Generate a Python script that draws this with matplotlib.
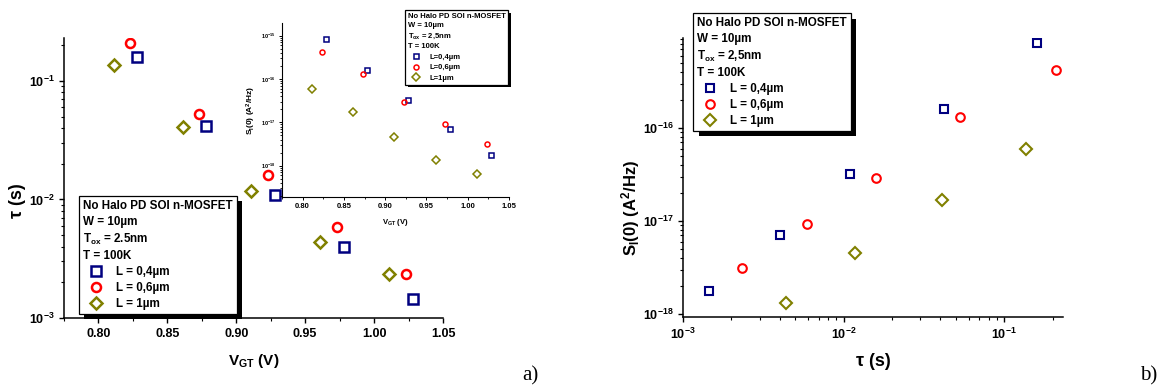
import matplotlib
matplotlib.use("Agg")
import matplotlib.pyplot as plt
import matplotlib.ticker as mticker
import matplotlib.patheffects as pe
from matplotlib.lines import Line2D

plt.rcParams.update({
    "font.family": ["Liberation Sans", "DejaVu Sans"],
    "font.weight": "bold",
    "axes.labelweight": "bold",
    "mathtext.fontset": "custom",
    "mathtext.rm": "Liberation Sans:bold",
    "mathtext.it": "Liberation Sans:bold",
    "mathtext.bf": "Liberation Sans:bold",
    "mathtext.sf": "Liberation Sans:bold",
    "mathtext.default": "bf",
    "axes.spines.top": False,
    "axes.spines.right": False,
    "axes.linewidth": 1.1,
})

# ---------------------------------------------------------------------------
# Data
# ---------------------------------------------------------------------------
labels = ["L = 0,4µm", "L = 0,6µm", "L = 1µm"]
inset_labels = ["L=0,4µm", "L=0,6µm", "L=1µm"]

vgt_L04 = [0.828, 0.878, 0.928, 0.978, 1.028]
vgt_L06 = [0.823, 0.873, 0.923, 0.973, 1.023]
vgt_L1 = [0.811, 0.861, 0.911, 0.961, 1.011]

tau_L04 = [0.16, 0.042, 0.011, 0.0040, 0.00145]
tau_L06 = [0.21, 0.053, 0.016, 0.0059, 0.00234]
tau_L1 = [0.136, 0.041, 0.0118, 0.0044, 0.00234]

s0_L04 = [8.2e-16, 1.6e-16, 3.2e-17, 7.1e-18, 1.75e-18]
s0_L06 = [4.2e-16, 1.3e-16, 2.9e-17, 9.3e-18, 3.1e-18]
s0_L1 = [6.0e-17, 1.7e-17, 4.5e-18, 1.33e-18, 6.6e-19]

COLORS = ["#000080", "#ff0000", "#808000"]
MARKERS = ["s", "o", "D"]

W, H = 1170, 391
fig = plt.figure(figsize=(W / 100, H / 100), dpi=100)


def px_axes(x0, y0, x1, y1):
    return fig.add_axes([x0 / W, 1 - y1 / H, (x1 - x0) / W, (y1 - y0) / H])


def style_axis(ax, size, major=3.5, minor=2.0):
    ax.tick_params(which="major", direction="out", length=major, width=1.0,
                   labelsize=size)
    ax.tick_params(which="minor", direction="out", length=minor, width=0.8)


def add_legend(ax, handles, texts, anchor, fsize, shadow, title,
               lspace=1.38, spacing=0.33):
    leg = ax.legend(handles, texts, loc="upper left",
                    bbox_to_anchor=(anchor[0] / W, 1 - anchor[1] / H),
                    bbox_transform=fig.transFigure, borderaxespad=0,
                    fancybox=False, framealpha=1, edgecolor="black",
                    prop={"size": fsize, "weight": "bold"},
                    title=title, alignment="left",
                    title_fontproperties={"size": fsize, "weight": "bold"},
                    handlelength=2.2, handletextpad=0.6, labelspacing=spacing,
                    borderpad=0.35)
    leg.get_title().set_linespacing(lspace)
    leg.get_frame().set_linewidth(0.9)
    leg.get_frame().set_path_effects([
        pe.SimplePatchShadow(offset=(shadow, -shadow), shadow_rgbFace="black",
                             alpha=1.0),
        pe.Normal()])
    return leg


title_a = "No Halo PD SOI n-MOSFET\nW = 10µm\nT$_{ox}$ = 2.5nm\nT = 100K"
title_b = "No Halo PD SOI n-MOSFET\nW = 10µm\nT$_{ox}$ = 2,5nm\nT = 100K"

# ---------------------------------------------------------------------------
# a) tau vs VGT
# ---------------------------------------------------------------------------
ax = px_axes(64, 38, 443, 318)
vgts = [vgt_L04, vgt_L06, vgt_L1]
taus = [tau_L04, tau_L06, tau_L1]
for v, t, c, m in zip(vgts, taus, COLORS, MARKERS):
    ax.plot(v, t, linestyle="none", marker=m, ms=6.5, mfc="none", mec=c, mew=1.8)
ax.set_yscale("log")
ax.set_xlim(0.775, 1.05)
ax.set_ylim(1e-3, 0.23)
ax.xaxis.set_major_locator(mticker.MultipleLocator(0.05))
ax.xaxis.set_minor_locator(mticker.MultipleLocator(0.025))
ax.xaxis.set_major_formatter(mticker.FormatStrFormatter("%.2f"))
style_axis(ax, 9)
ax.set_xlabel("V$_{GT}$ (V)", fontsize=11)
ax.xaxis.set_label_coords(0.5, -0.12)
ax.set_ylabel("τ (s)", fontsize=13)
ax.yaxis.set_label_coords(-0.1, 0.42)

handles = [Line2D([], [], linestyle="none", marker=m, ms=6.5, mfc="none",
                  mec=c, mew=1.8) for c, m in zip(COLORS, MARKERS)]
add_legend(ax, handles, labels, (79, 196), 8.4, 3.5, title_a)

# inset: S(0) vs VGT
axi = px_axes(282, 23, 509, 197)
axi.set_facecolor("white")
s0s = [s0_L04, s0_L06, s0_L1]
for v, s, c, m in zip(vgts, s0s, COLORS, MARKERS):
    axi.plot(v, s, linestyle="none", marker=m, ms=3.6, mfc="none", mec=c, mew=1.1)
axi.set_yscale("log")
axi.set_xlim(0.775, 1.05)
axi.set_ylim(1.9e-19, 1.95e-15)
axi.xaxis.set_major_locator(mticker.MultipleLocator(0.05))
axi.xaxis.set_minor_locator(mticker.MultipleLocator(0.025))
axi.xaxis.set_major_formatter(mticker.FormatStrFormatter("%.2f"))
for s in axi.spines.values():
    s.set_linewidth(0.8)
axi.tick_params(which="major", direction="out", length=2.5, width=0.7,
                labelsize=5.5, pad=2)
axi.tick_params(which="minor", direction="out", length=1.5, width=0.6)
axi.tick_params(axis="y", labelsize=4)
axi.set_xlabel("V$_{GT}$ (V)", fontsize=5.5, labelpad=5)
axi.set_ylabel("S$_I$(0) (A$^2$/Hz)", fontsize=6, labelpad=2)

ihandles = [Line2D([], [], linestyle="none", marker=m, ms=3.6, mfc="none",
                   mec=c, mew=1.1) for c, m in zip(COLORS, MARKERS)]
add_legend(axi, ihandles, inset_labels, (405, 10), 5.5, 2.0, title_b,
           1.45, 0.42)

fig.text(522 / W, 1 - 380 / H, "a)", family="Liberation Serif",
         fontweight="normal", fontsize=15)

# ---------------------------------------------------------------------------
# b) S(0) vs tau
# ---------------------------------------------------------------------------
axb = px_axes(683, 38, 1063, 317)
for t, s, c, m in zip(taus, s0s, COLORS, MARKERS):
    axb.plot(t, s, linestyle="none", marker=m, ms=6.2, mfc="none", mec=c, mew=1.5)
axb.set_xscale("log")
axb.set_yscale("log")
axb.set_xlim(1e-3, 0.232)
axb.set_ylim(9.3e-19, 9.3e-16)
style_axis(axb, 9)
axb.set_xlabel("τ (s)", fontsize=13)
axb.xaxis.set_label_coords(0.5, -0.13)
axb.set_ylabel("S$_I$(0) (A$^2$/Hz)", fontsize=12)
axb.yaxis.set_label_coords(-0.108, 0.39)

bhandles = [Line2D([], [], linestyle="none", marker=m, ms=6.2, mfc="none",
                   mec=c, mew=1.5) for c, m in zip(COLORS, MARKERS)]
add_legend(axb, bhandles, labels, (693, 13), 8.4, 4.0, title_b)

fig.text(1140 / W, 1 - 380 / H, "b)", family="Liberation Serif",
         fontweight="normal", fontsize=15)

fig.savefig("out.png", dpi=100)
